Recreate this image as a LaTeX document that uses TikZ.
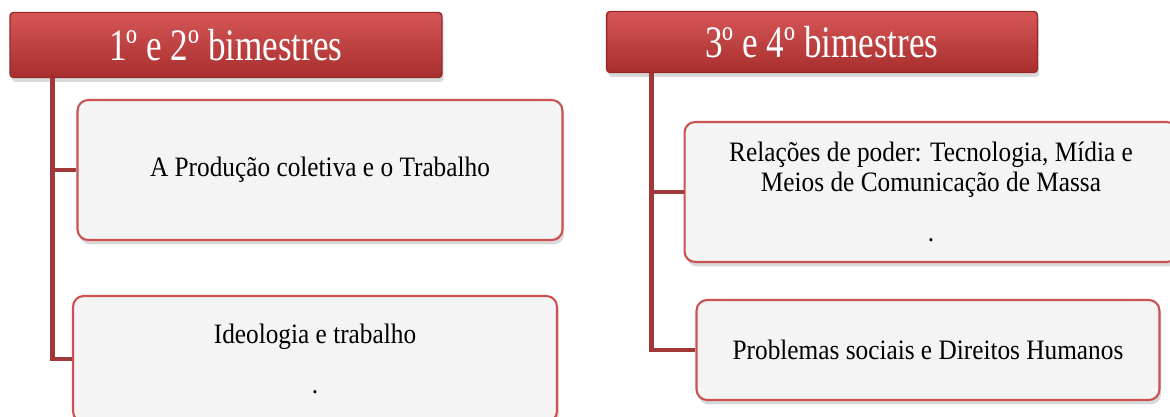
\documentclass[tikz,border=0pt]{standalone}
\usepackage{fontspec}
\setmainfont{Liberation Serif}
\newfontfamily\headfont[FakeStretch=0.78]{Liberation Serif}
\newfontfamily\boxfont[FakeStretch=0.9]{Liberation Serif}
\usetikzlibrary{shadows}

\begin{document}
\begin{tikzpicture}[x=0.02cm, y=-0.02cm,
    every node/.style={align=center},
    header/.style={draw=headline, line width=0.8pt, rounded corners=2pt,
      top color=headtop, bottom color=headbottom, text=white,
      minimum width=8.64cm, minimum height=1.3cm,
      font=\headfont\fontsize{25.6}{30}\selectfont,
      drop shadow={shadow xshift=1pt, shadow yshift=-2.5pt, opacity=0.3}},
    topic/.style={draw=boxline, line width=1.2pt, rounded corners=6pt, fill=boxfill,
      font=\boxfont\fontsize{16}{17}\selectfont,
      drop shadow={shadow xshift=1pt, shadow yshift=-2.5pt, opacity=0.3}},
    link/.style={draw=linkred, line width=2.8pt}]
        \definecolor{headtop}{RGB}{214,86,86}
        \definecolor{headbottom}{RGB}{168,46,46}
        \definecolor{headline}{RGB}{150,40,40}
        \definecolor{boxline}{RGB}{202,82,82}
        \definecolor{boxfill}{RGB}{244,244,244}
        \definecolor{linkred}{RGB}{160,56,58}
        \useasboundingbox (0,0) rectangle (1170,416);

        % 1o e 2o bimestres
        \node[header] (h1) at (226,45) {1º e 2º bimestres};
        \node[topic, minimum width=9.7cm, minimum height=2.8cm] (prod) at (320,170)
          {A Produção coletiva e o Trabalho};
        \node[topic, minimum width=9.68cm, minimum height=2.52cm] (ideo) at (315,359)
          {Ideologia e trabalho\\[0.4cm].};
        \coordinate (t1) at ([xshift=0.86cm]h1.south west);
        \draw[link] (t1) |- (prod.west);
        \draw[link] (t1) |- (ideo.west);

        % 3o e 4o bimestres
        \node[header, minimum width=8.62cm, minimum height=1.22cm] (h2) at (822,42) {3º e 4º bimestres};
        \node[topic, minimum width=9.86cm, minimum height=2.8cm] (poder) at (931,192)
          {Relações de poder: Tecnologia, Mídia e\\Meios de Comunicação de Massa\\[0.4cm].};
        \node[topic, minimum width=9.26cm, minimum height=2cm] (dir) at (928,350)
          {Problemas sociais e Direitos Humanos};
        \coordinate (t2) at ([xshift=0.91cm]h2.south west);
        \draw[link] (t2) |- (poder.west);
        \draw[link] (t2) |- (dir.west);
\end{tikzpicture}
\end{document}
